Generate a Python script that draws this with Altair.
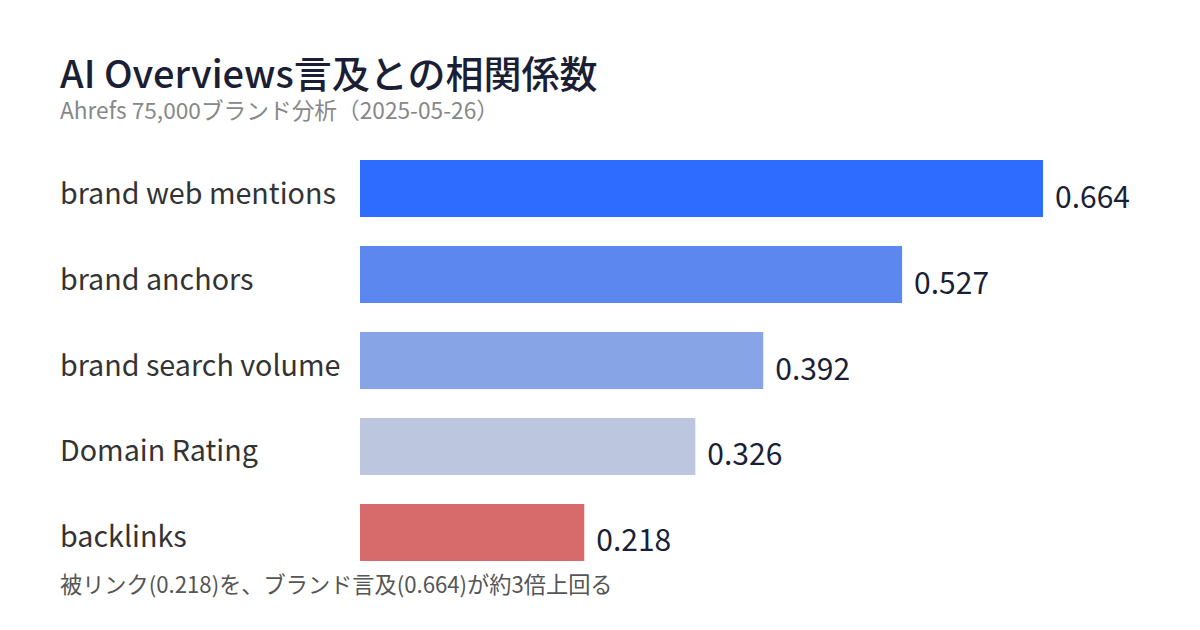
import altair as alt
import pandas as pd

categories = ["brand web mentions", "brand anchors", "brand search volume", "Domain Rating", "backlinks"]
values = [0.664, 0.527, 0.392, 0.326, 0.218]
colors = ["#2e6cff", "#5b87ee", "#86a4e6", "#bcc6df", "#d76a6a"]
value_labels = ["0.664", "0.527", "0.392", "0.326", "0.218"]

title_text = "AI Overviews言及との相関係数"
subtitle_text = "Ahrefs 75,000ブランド分析（2025-05-26）"
footer_text = "被リンク(0.218)を、ブランド言及(0.664)が約3倍上回る"

FONT = "Noto Sans CJK JP"

df = pd.DataFrame({"cat": categories, "value": values, "color": colors, "label": value_labels})

x_enc = alt.X("value:Q", axis=None, scale=alt.Scale(domain=[0, 0.8166], nice=False, zero=True))
y_enc = alt.Y("cat:N", sort=categories, axis=None,
              scale=alt.Scale(paddingInner=0.337, paddingOuter=0))

base = alt.Chart(df)

bars = base.mark_bar().encode(
    x=x_enc, y=y_enc, color=alt.Color("color:N", scale=None)
)

vals = base.mark_text(align="left", baseline="alphabetic", dx=12, dy=19, font=FONT,
                      fontSize=30, color="#1a1f36").encode(
    x=x_enc, y=y_enc, text="label:N"
)

cats = base.mark_text(align="left", baseline="alphabetic", dy=15, font=FONT,
                      fontSize=28.7, color="#333333").encode(
    x=alt.value(-300), y=y_enc, text="cat:N"
)

one = alt.Data(values=[{"a": 1}])

title = alt.Chart(one).mark_text(align="left", baseline="alphabetic", font=FONT,
                                 fontSize=38, fontWeight=500, color="#1a1f36").encode(
    x=alt.value(-300), y=alt.value(-72), text=alt.value(title_text)
)
subtitle = alt.Chart(one).mark_text(align="left", baseline="alphabetic", font=FONT,
                                    fontSize=22.7, color="#888888").encode(
    x=alt.value(-300), y=alt.value(-41), text=alt.value(subtitle_text)
)
footer = alt.Chart(one).mark_text(align="left", baseline="alphabetic", font=FONT,
                                  fontSize=22.2, color="#555555").encode(
    x=alt.value(-300), y=alt.value(433), text=alt.value(footer_text)
)

chart = alt.layer(bars, vals, cats, title, subtitle, footer).properties(
    width=840, height=401,
    autosize=alt.AutoSizeParams(type="none"),
    padding={"left": 360, "top": 160, "right": 0, "bottom": 69},
    background="white",
).configure_view(stroke=None)

chart.save("out.html", embed_options={"renderer": "svg", "actions": False})
